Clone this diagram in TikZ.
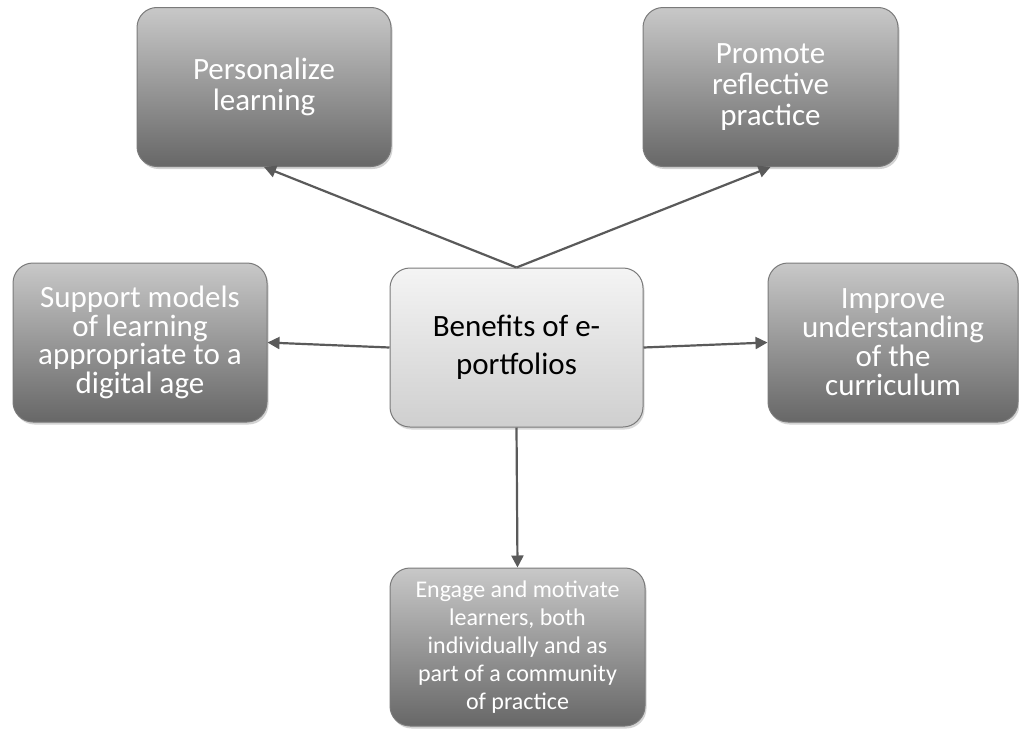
\documentclass[tikz,border=0pt]{standalone}
\usepackage{fontspec}
\setmainfont{Carlito}
\usetikzlibrary{arrows.meta,shadows}
\definecolor{boxtop}{HTML}{C8C8C8}
\definecolor{boxbot}{HTML}{676767}
\definecolor{ctop}{HTML}{F4F4F4}
\definecolor{cbot}{HTML}{CFCFCF}
\definecolor{edge}{HTML}{7A7A7A}
\definecolor{arrowc}{HTML}{5A5A5A}
\tikzset{
  outerbox/.style={draw=edge, line width=1pt, rounded corners=20pt,
    top color=boxtop, bottom color=boxbot, text=white, align=center,
    inner sep=0pt, font=\fontsize{31}{31}\selectfont,
    drop shadow={opacity=0.35, shadow xshift=1.5pt, shadow yshift=-2.5pt}},
  centerbox/.style={draw=edge, line width=1pt, rounded corners=20pt,
    top color=ctop, bottom color=cbot, text=black, align=center,
    inner sep=0pt, font=\fontsize{31}{38}\selectfont,
    drop shadow={opacity=0.3, shadow xshift=1.5pt, shadow yshift=-2.5pt}},
  link/.style={draw=arrowc, line width=2.2pt, -{Triangle[length=12pt,width=12pt]}}
}
\begin{document}
\begin{tikzpicture}[x=1pt,y=-1pt]
\useasboundingbox (0,0) rectangle (1019,728);
\node[outerbox, minimum width=254pt, minimum height=159pt] (p) at (264,87) {Personalize\\learning};
\node[outerbox, minimum width=255pt, minimum height=159pt] (r) at (770.5,87) {Promote\\reflective\\practice};
\node[outerbox, minimum width=254pt, minimum height=159pt, font=\fontsize{31}{28.5}\selectfont] (s) at (140,342.5) {Support models\\of learning\\appropriate to a\\digital age};
\node[outerbox, minimum width=250pt, minimum height=159pt, font=\fontsize{31}{29}\selectfont] (i) at (893,342.5) {Improve\\understanding\\of the\\curriculum};
\node[centerbox, minimum width=253pt, minimum height=159pt] (c) at (516.5,347.5) {Benefits of e-\\portfolios};
\node[outerbox, minimum width=255pt, minimum height=158pt, font=\fontsize{24}{28}\selectfont] (e) at (517.5,647) {Engage and motivate\\learners, both\\individually and as\\part of a community\\of practice};
\draw[link] (c.north) -- (p.south);
\draw[link] (c.north) -- (r.south);
\draw[link] (c.west) -- (s.east);
\draw[link] (c.east) -- (i.west);
\draw[link] (c.south) -- (e.north);
\end{tikzpicture}
\end{document}
